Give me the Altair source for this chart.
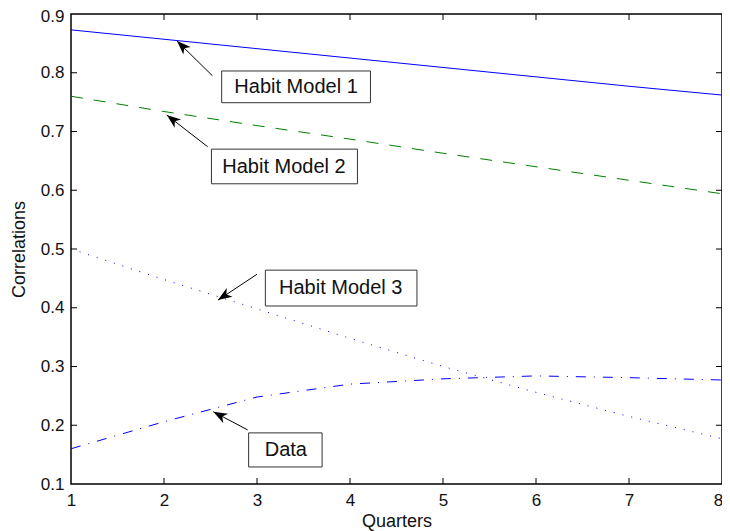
import math
import altair as alt
import pandas as pd

# ---- data ----
quarters = [1, 2, 3, 4, 5, 6, 7, 8]
habit1 = [0.873, 0.857, 0.841, 0.825, 0.809, 0.793, 0.777, 0.762]
habit2 = [0.760, 0.734, 0.710, 0.687, 0.663, 0.640, 0.617, 0.594]
habit3 = [0.500, 0.448, 0.398, 0.348, 0.300, 0.256, 0.215, 0.177]
data_corr = [0.160, 0.206, 0.248, 0.270, 0.279, 0.284, 0.281, 0.277]

x_ticks = [1, 2, 3, 4, 5, 6, 7, 8]
y_ticks = [0.1, 0.2, 0.3, 0.4, 0.5, 0.6, 0.7, 0.8, 0.9]

labels = ["Habit Model 1", "Habit Model 2", "Habit Model 3", "Data"]
label_x = [3.42, 3.29, 3.90, 3.31]
label_y = [0.776, 0.640, 0.434, 0.158]
box_x1 = [2.62, 2.51, 3.09, 2.91]
box_x2 = [4.22, 4.08, 4.72, 3.70]
box_y1 = [0.749, 0.611, 0.403, 0.129]
box_y2 = [0.803, 0.670, 0.464, 0.187]
tail_x = [2.52, 2.47, 3.00, 2.90]
tail_y = [0.795, 0.674, 0.457, 0.192]
tip_x = [2.14, 2.03, 2.58, 2.53]
tip_y = [0.854, 0.728, 0.413, 0.223]

W, H = 651, 470
FONT = "Liberation Sans, Arial, Helvetica, sans-serif"
sx = W / (max(x_ticks) - min(x_ticks))
sy = H / (max(y_ticks) - min(y_ticks))
angles = [
    math.degrees(math.atan2((tx - ax) * sx, (ty - ay) * sy)) % 360
    for ax, ay, tx, ty in zip(tail_x, tail_y, tip_x, tip_y)
]

lines = pd.DataFrame({"q": quarters, "h1": habit1, "h2": habit2, "h3": habit3, "d": data_corr})
ann = pd.DataFrame({
    "label": labels, "lx": label_x, "ly": label_y,
    "bx1": box_x1, "bx2": box_x2, "by1": box_y1, "by2": box_y2,
    "ax": tail_x, "ay": tail_y, "tx": tip_x, "ty": tip_y, "angle": angles,
})
xt = pd.DataFrame({"v": x_ticks[1:-1]})
yt = pd.DataFrame({"v": y_ticks[1:-1]})

xscale = alt.Scale(domain=[1, 8], nice=False, zero=False)
yscale = alt.Scale(domain=[0.1, 0.9], nice=False, zero=False)

xaxis = alt.Axis(values=x_ticks, format="d", title="Quarters", domain=False, ticks=False,
                 grid=False, labelPadding=8, titlePadding=4, labelFlush=False,
                 labelOffset={"condition": {"test": "datum.value >= 7.9", "value": -4}, "value": 0})
yaxis = alt.Axis(values=y_ticks, format=".1f", title="Correlations", domain=False, ticks=False,
                 grid=False, labelPadding=7, titlePadding=12, labelFlush=False,
                 labelOffset={"condition": {"test": "datum.value >= 0.89", "value": 2}, "value": 0})

base = alt.Chart(lines)


def series(col, color, dash):
    kw = dict(color=color, strokeWidth=1, clip=True)
    if dash:
        kw["strokeDash"] = dash
    return base.mark_line(**kw).encode(
        x=alt.X("q:Q", scale=xscale, axis=xaxis),
        y=alt.Y(f"{col}:Q", scale=yscale, axis=yaxis),
    )


l1 = series("h1", "#0000ff", None)
l2 = series("h2", "#008000", [12, 11])
l3 = series("h3", "#0000ff", [1, 8])
l4 = series("d", "#0000ff", [10, 8, 1, 8])

tick_style = dict(color="black", strokeWidth=1)
tb = alt.Chart(xt).mark_rule(**tick_style).encode(
    x=alt.X("v:Q", scale=xscale), y=alt.value(H), y2=alt.value(H - 6))
tt = alt.Chart(xt).mark_rule(**tick_style).encode(
    x=alt.X("v:Q", scale=xscale), y=alt.value(0), y2=alt.value(6))
tl = alt.Chart(yt).mark_rule(**tick_style).encode(
    y=alt.Y("v:Q", scale=yscale), x=alt.value(0), x2=alt.value(6))
tr = alt.Chart(yt).mark_rule(**tick_style).encode(
    y=alt.Y("v:Q", scale=yscale), x=alt.value(W), x2=alt.value(W - 6))

a = alt.Chart(ann)
arrows = a.mark_rule(color="black", strokeWidth=1).encode(
    x=alt.X("ax:Q", scale=xscale), y=alt.Y("ay:Q", scale=yscale),
    x2="tx:Q", y2="ty:Q")
heads = a.mark_point(
    shape="M0,0 L0.75,2 L0,1.45 L-0.75,2 Z", filled=True, color="black",
    opacity=1, size=196, strokeWidth=0,
).encode(
    x=alt.X("tx:Q", scale=xscale), y=alt.Y("ty:Q", scale=yscale),
    angle=alt.Angle("angle:Q", scale=None))
boxes = a.mark_rect(fill="white", stroke="#333333", strokeWidth=1).encode(
    x=alt.X("bx1:Q", scale=xscale), x2="bx2:Q",
    y=alt.Y("by1:Q", scale=yscale), y2="by2:Q")
texts = a.mark_text(font=FONT, fontSize=20, color="#111111", align="center",
                    baseline="middle").encode(
    x=alt.X("lx:Q", scale=xscale), y=alt.Y("ly:Q", scale=yscale), text="label:N")

chart = alt.layer(
    l1, l2, l3, l4, tb, tt, tl, tr, arrows, heads, boxes, texts
).properties(
    width=W, height=H,
    padding={"left": 63, "top": 6, "right": 0, "bottom": 47},
    autosize=alt.AutoSizeParams(type="none"),
    background="white",
).configure_view(
    stroke="black", strokeWidth=1.5
).configure_axis(
    labelFont=FONT, titleFont=FONT, labelFontSize=17, titleFontSize=18,
    labelColor="#111111", titleColor="#111111", titleFontWeight="normal",
)

chart.save("out.html", embed_options={"renderer": "svg", "actions": False})
